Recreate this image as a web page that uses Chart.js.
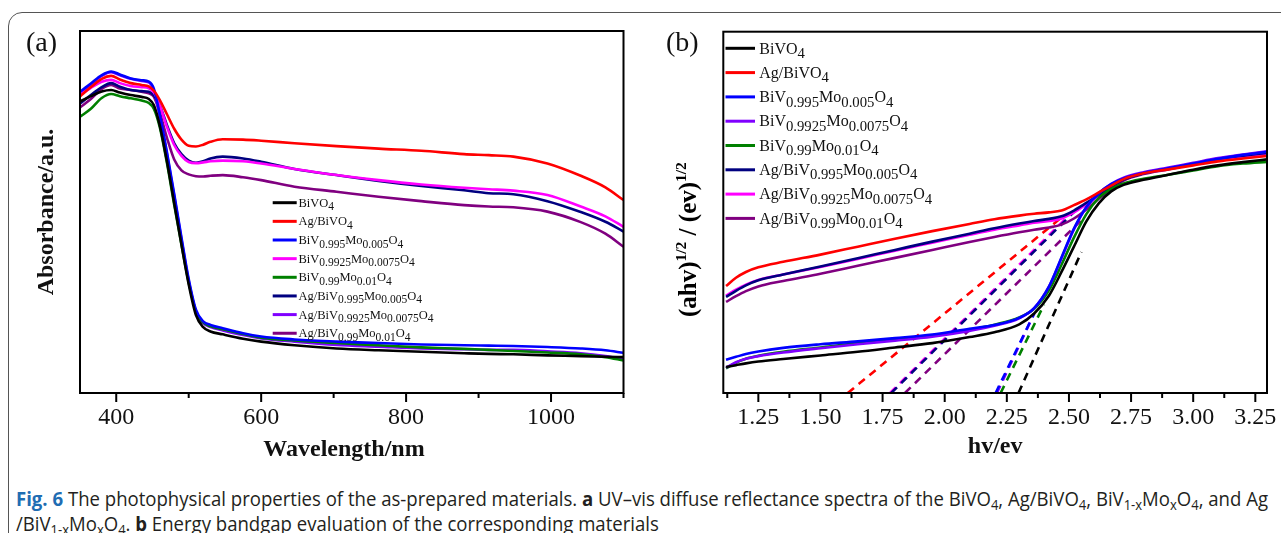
<!DOCTYPE html>
<html><head><meta charset="utf-8">
<script src="https://cdn.jsdelivr.net/npm/chart.js@4/dist/chart.umd.min.js"></script>
<style>
html,body{margin:0;padding:0;background:#fff;}
#wrap{position:relative;width:1281px;height:533px;overflow:hidden;background:#fff;}
#frame{position:absolute;left:8px;top:12px;width:1300px;height:600px;border:1.5px solid #555;border-radius:14px;box-sizing:border-box;}
#ca{position:absolute;left:0;top:0;width:660px;height:470px;}
#cb{position:absolute;left:660px;top:0;width:640px;height:470px;}
#cap{position:absolute;left:16px;top:486px;font-family:"Open Sans","Noto Sans",sans-serif;font-size:20px;line-height:25px;white-space:nowrap;color:#231f20;transform-origin:0 0;}
#cap sub{font-size:70%;vertical-align:-0.25em;line-height:0;}
#cap .fig{color:#1f6db3;font-weight:bold;}
#capl1,#capl2{display:inline-block;}
</style></head><body>
<div id="wrap">
<div id="frame"></div>
<canvas id="ca" width="660" height="470"></canvas>
<canvas id="cb" width="640" height="470"></canvas>
<div id="cap"><span id="capl1"><span class="fig">Fig. 6</span> The photophysical properties of the as-prepared materials. <b>a</b> UV–vis diffuse reflectance spectra of the BiVO<sub>4</sub>, Ag/BiVO<sub>4</sub>, BiV<sub>1-x</sub>Mo<sub>x</sub>O<sub>4</sub>, and Ag</span><br><span id="capl2">/BiV<sub>1-x</sub>Mo<sub>x</sub>O<sub>4</sub>. <b>b</b> Energy bandgap evaluation of the corresponding materials</span></div>
</div>
<script>
// ---------- Panel (a): UV-vis absorbance ----------
const wavelengthNm = [350,365,380,393,405,420,435,445,452,460,470,480,490,500,510,520,530,547,575,600,646,704,762,821,880,914,948,995,1041,1075,1100];
const absBiVO4      = [80.5,82.0,83.3,83.7,83.0,82.3,81.8,81.2,79.5,74,64,52.5,41,30,21.5,18.2,17.0,16.2,15.0,14.2,13.2,12.3,11.8,11.4,11.0,10.8,10.7,10.4,10.2,10.0,9.9];
const absAgBiVO4    = [81.9,84.5,86.8,87.6,86.6,85.6,85.1,84.7,83.5,81,77,73,70,68.3,68.1,68.6,69.4,70.1,70.0,69.7,69.0,68.2,67.5,66.9,66.0,65.7,65.3,63.4,60.0,56.8,53.3];
const absBiV995     = [83.2,85.5,87.8,88.8,88.0,86.9,86.4,86.0,84.0,77,66.5,55,43,31.5,23,19.8,18.8,17.9,16.5,15.6,14.8,14.2,13.8,13.4,13.2,13.1,13.0,12.7,12.3,11.8,11.1];
const absBiV9925    = [82.3,84.3,86.0,86.5,85.6,84.8,84.5,84.2,83.0,79.5,73.5,68.5,65.5,63.8,63.5,63.7,64.0,64.2,64.0,63.4,61.9,60.2,58.8,57.6,56.7,56.3,55.9,54.7,51.5,48.8,45.9];
const absBiV99      = [76.3,78.5,81.5,82.6,82.0,81.4,80.8,80.1,78.5,73.5,63.5,52,41,30.5,22.5,19.5,18.4,17.6,16.3,15.3,14.5,13.8,13.2,12.6,12.2,11.9,11.6,11.2,10.7,9.9,9.0];
const absAgBiV995   = [80.0,82.3,84.5,85.6,84.6,83.7,83.4,83.2,82.2,79.5,74,69,66,64.2,63.6,64.0,64.8,65.3,64.8,63.9,61.9,60.2,58.6,57.2,56.0,55.2,54.9,53.0,50.0,47.3,44.6];
const absAgBiV9925  = [82.8,85.2,87.6,88.6,87.8,86.8,86.2,85.8,83.5,76.5,66,54.5,42.5,31,22.5,19.3,18.2,17.3,16.0,15.1,14.2,13.3,12.8,12.3,12.1,11.9,11.9,11.5,11.0,10.2,9.3];
const absAgBiV99    = [78.9,81.2,84.0,85.1,84.1,83.7,83.2,82.8,81.8,77.5,70.5,64.5,61.5,60.4,59.9,59.8,60.0,60.2,59.6,58.8,57.0,55.6,54.2,53.0,51.9,51.5,51.3,50.1,47.2,44.0,40.4];
const tickWavelength = [400,500,600,700,800,900,1000,1100];
const tickLabelsA    = ['400','','600','','800','','1000',''];
const legendLabelsA = ['BiVO_{4}','Ag/BiVO_{4}','BiV_{0.995}Mo_{0.005}O_{4}','BiV_{0.9925}Mo_{0.0075}O_{4}','BiV_{0.99}Mo_{0.01}O_{4}','Ag/BiV_{0.995}Mo_{0.005}O_{4}','Ag/BiV_{0.9925}Mo_{0.0075}O_{4}','Ag/BiV_{0.99}Mo_{0.01}O_{4}'];
const colorsA = ['#000000','#ff0000','#0000ff','#ff00ff','#008000','#000080','#8000ff','#800080'];
const seriesA = [absBiVO4,absAgBiVO4,absBiV995,absBiV9925,absBiV99,absAgBiV995,absAgBiV9925,absAgBiV99];

// ---------- Panel (b): Tauc plot ----------
const energyEv = [1.12,1.16,1.2,1.25,1.35,1.5,1.65,1.8,1.95,2.1,2.2,2.3,2.36,2.42,2.47,2.52,2.57,2.62,2.67,2.72,2.8,2.9,3.0,3.1,3.2,3.3];
const taucBiVO4     = [7.2,7.7,8.2,8.7,9.4,10.4,11.4,12.6,13.8,15.5,16.8,19.0,22.0,27,33.5,40.5,47.5,52.5,55.8,57.6,59.0,60.4,61.8,63.0,63.9,64.7];
const taucAgBiVO4   = [29.6,31.9,33.5,34.8,36.3,38.3,40.5,42.7,44.8,46.8,48.1,49.1,49.6,50.0,50.5,52.0,53.6,55.5,57.4,59.2,60.8,61.9,63.0,64.1,64.9,65.6];
const taucBiV995    = [9.2,10.0,10.8,11.5,12.5,13.5,14.3,15.2,16.2,17.8,18.8,20.8,23.5,29.5,37.5,45.5,51.5,55.3,57.8,59.4,60.9,62.2,63.5,64.8,65.9,66.8];
const taucBiV9925   = [7.0,8.5,9.5,10.2,11.2,12.4,13.5,14.5,15.6,17.2,18.6,20.7,23.5,29.5,37.3,45.3,51.4,55.3,57.9,59.6,61.1,62.4,63.7,65.0,66.0,66.9];
const taucBiV99     = [6.8,8.4,9.5,10.3,11.4,12.6,13.8,14.8,15.9,17.5,18.9,20.9,23.3,28.5,35.5,43.0,49.5,54.0,56.5,58.0,59.3,60.4,61.6,62.8,63.5,64.0];
const taucAgBiV995  = [26.6,28.3,29.8,31.2,32.8,35.0,37.3,39.6,41.9,44.1,45.6,46.9,47.6,48.2,48.9,50.5,52.6,54.8,57.0,59.1,60.8,62.1,63.5,64.8,65.7,66.5];
const taucAgBiV9925 = [27.0,28.6,30.0,31.3,32.8,34.9,37.1,39.4,41.6,43.8,45.2,46.4,47.1,47.6,48.3,50.0,52.3,54.7,57.0,59.2,60.9,62.1,63.4,64.6,65.4,66.1];
const taucAgBiV99   = [25.2,26.8,28.2,29.5,31.0,33.0,35.2,37.4,39.6,41.8,43.2,44.5,45.2,45.8,46.6,48.3,50.8,53.8,56.4,58.8,60.6,61.9,63.3,64.4,65.2,65.8];
// tangent (extrapolation) lines: start on energy axis, end on curve
const tangentStartEv = [2.297,1.61,2.205,2.21,2.225,1.785,1.78,1.84];
const tangentEndEv   = [2.55,2.465,2.36,2.36,2.40,2.545,2.49,2.56];
const tangentEndVal  = [39.0,48.3,22.0,22.0,24.5,51.8,48.5,48.5];
const tickEnergy   = [1.125,1.25,1.375,1.5,1.625,1.75,1.875,2.0,2.125,2.25,2.375,2.5,2.625,2.75,2.875,3.0,3.125,3.25];
const tickLabelsB  = ['','1.25','','1.50','','1.75','','2.00','','2.25','','2.50','','2.75','','3.00','','3.25'];
const legendLabelsB = ['BiVO_{4}','Ag/BiVO_{4}','BiV_{0.995}Mo_{0.005}O_{4}','BiV_{0.9925}Mo_{0.0075}O_{4}','BiV_{0.99}Mo_{0.01}O_{4}','Ag/BiV_{0.995}Mo_{0.005}O_{4}','Ag/BiV_{0.9925}Mo_{0.0075}O_{4}','Ag/BiV_{0.99}Mo_{0.01}O_{4}'];
const colorsB = ['#000000','#ff0000','#0000ff','#8000ff','#008000','#000080','#ff00ff','#800080'];
const seriesB = [taucBiVO4,taucAgBiVO4,taucBiV995,taucBiV9925,taucBiV99,taucAgBiV995,taucAgBiV9925,taucAgBiV99];

const SERIF = '"Liberation Serif","Times New Roman",serif';

// caption: condense to the reference line length
(function () {
  const cap = document.getElementById('cap');
  const w = document.getElementById('capl1').getBoundingClientRect().width;
  cap.style.transform = 'scaleX(' + (1252 / w) + ')';
})();

function drawRich(ctx, str, x, y, o) {
  const re = /([_^])\{([^}]*)\}/g; let last = 0, m; const parts = [];
  while ((m = re.exec(str))) {
    if (m.index > last) parts.push({t: str.slice(last, m.index), k: ''});
    parts.push({t: m[2], k: m[1]}); last = re.lastIndex;
  }
  if (last < str.length) parts.push({t: str.slice(last), k: ''});
  for (const p of parts) {
    const size = p.k ? o.size * o.scriptScale : o.size;
    ctx.font = (o.weight || 'normal') + ' ' + size + 'px ' + SERIF;
    const dy = p.k === '_' ? o.drop : (p.k === '^' ? -o.rise : 0);
    ctx.fillText(p.t, x, y + dy);
    x += ctx.measureText(p.t).width;
  }
  return x;
}

const frameTicks = {
  id: 'frameTicks',
  afterDatasetsDraw(chart, args, o) {
    const {ctx, chartArea: a} = chart; const xs = chart.scales.x;
    ctx.save();
    ctx.strokeStyle = '#000'; ctx.lineWidth = 2;
    ctx.strokeRect(a.left, a.top, a.right - a.left, a.bottom - a.top);
    o.values.forEach((v, i) => {
      const px = xs.getPixelForValue(v);
      const len = o.labels[i] ? 9 : 5;
      ctx.beginPath(); ctx.moveTo(px, a.bottom); ctx.lineTo(px, a.bottom + len); ctx.stroke();
    });
    ctx.restore();
  }
};
const richLegend = {
  id: 'richLegend',
  afterDraw(chart, args, o) {
    const ctx = chart.ctx; ctx.save();
    ctx.textBaseline = 'alphabetic'; ctx.textAlign = 'left';
    o.labels.forEach((lab, i) => {
      const y = o.y0 + i * o.step;
      ctx.strokeStyle = o.colors[i]; ctx.lineWidth = o.lw;
      ctx.beginPath(); ctx.moveTo(o.x0, y); ctx.lineTo(o.x1, y); ctx.stroke();
      ctx.fillStyle = '#111';
      drawRich(ctx, lab, o.tx, y + o.size * 0.33, {size: o.size, scriptScale: 0.92, drop: o.size * 0.27});
    });
    ctx.fillStyle = '#111'; ctx.font = '28px ' + SERIF;
    ctx.fillText(o.tag, o.tagX, o.tagY);
    if (o.xtitle) {
      ctx.font = 'bold 24px ' + SERIF; ctx.textAlign = 'center'; ctx.textBaseline = 'middle';
      ctx.fillText(o.xtitle.text, o.xtitle.x, o.xtitle.y);
      ctx.textAlign = 'left'; ctx.textBaseline = 'alphabetic';
    }
    if (o.ytitle) {
      ctx.save(); ctx.translate(o.ytitle.x, o.ytitle.y); ctx.rotate(-Math.PI / 2);
      ctx.fillStyle = '#000';
      drawRich(ctx, o.ytitle.text, 0, 0, {size: 25, weight: 'bold', scriptScale: 0.62, rise: 10});
      ctx.restore();
    }
    ctx.restore();
  }
};

function makeXScale(min, max, vals, labs) {
  return {
    type: 'linear', min, max,
    grid: {display: false, drawTicks: false}, border: {display: false},
    afterBuildTicks: s => { s.ticks = vals.map(v => ({value: v})); },
    ticks: {autoSkip: false, maxRotation: 0, padding: 10, color: '#111',
      font: {family: SERIF, size: 24},
      callback: v => { const i = vals.indexOf(v); return i >= 0 ? labs[i] : ''; }},
    afterFit: s => { s.height = 77; }
  };
}

new Chart(document.getElementById('ca'), {
  type: 'line',
  data: {datasets: seriesA.map((arr, i) => ({
    label: legendLabelsA[i].replace(/[_^]\{([^}]*)\}/g, '$1'),
    data: wavelengthNm.map((x, j) => ({x, y: arr[j]})),
    borderColor: colorsA[i], borderWidth: 2.6, pointRadius: 0,
    cubicInterpolationMode: 'monotone', fill: false
  }))},
  options: {
    responsive: false, animation: false, events: [],
    layout: {padding: {left: 0, top: 31, right: 36.5, bottom: 0}},
    plugins: {legend: {display: false}, tooltip: {enabled: false},
      frameTicks: {values: tickWavelength, labels: tickLabelsA},
      richLegend: {labels: legendLabelsA, colors: colorsA, x0: 272.7, x1: 296.7, tx: 298.5, y0: 202.7, step: 18.65, size: 12.5, lw: 3, tag: '(a)', tagX: 26, tagY: 51,
        xtitle: {text: 'Wavelength/nm', x: 344, y: 450}}},
    scales: {
      x: makeXScale(350, 1100, tickWavelength, tickLabelsA),
      y: {min: 0, max: 100, grid: {display: false, drawTicks: false}, border: {display: false}, ticks: {display: false},
        afterFit: s => { s.width = 80; },
        title: {display: true, text: 'Absorbance/a.u.', color: '#111', font: {family: SERIF, size: 24, weight: 'bold'}, padding: {top: 32, bottom: 0}}}
    }
  },
  plugins: [frameTicks, richLegend]
});

const dsB = seriesB.map((arr, i) => ({
  label: legendLabelsB[i].replace(/[_^]\{([^}]*)\}/g, '$1'),
  data: energyEv.map((x, j) => ({x, y: arr[j]})),
  borderColor: colorsB[i], borderWidth: 2.6, pointRadius: 0,
  cubicInterpolationMode: 'monotone', fill: false
}));
const dashB = tangentStartEv.map((x0, i) => ({
  label: 'tangent ' + (i + 1),
  data: [{x: x0, y: 0}, {x: tangentEndEv[i], y: tangentEndVal[i]}],
  borderColor: colorsB[i], borderWidth: 2.6, borderDash: [8, 6], pointRadius: 0, tension: 0, fill: false
}));
new Chart(document.getElementById('cb'), {
  type: 'line',
  data: {datasets: dsB.concat(dashB)},
  options: {
    responsive: false, animation: false, events: [],
    layout: {padding: {left: 63.3, top: 31.7, right: 33, bottom: 0}},
    plugins: {legend: {display: false}, tooltip: {enabled: false},
      frameTicks: {values: tickEnergy, labels: tickLabelsB},
      richLegend: {labels: legendLabelsB, colors: colorsB, x0: 65.5, x1: 95, tx: 99.3, y0: 48.3, step: 24.3, size: 16, lw: 3, tag: '(b)', tagX: 6, tagY: 51,
        ytitle: {text: '(ahv)^{1/2} / (ev)^{1/2}', x: 36, y: 317}}},
    scales: {
      x: Object.assign(makeXScale(1.109, 3.297, tickEnergy, tickLabelsB), {
        title: {display: true, text: 'hv/ev', color: '#111', font: {family: SERIF, size: 24, weight: 'bold'}, padding: {top: 0, bottom: 9}}}),
      y: {display: false, min: 0, max: 100}
    }
  },
  plugins: [frameTicks, richLegend]
});
</script>
</body></html>
